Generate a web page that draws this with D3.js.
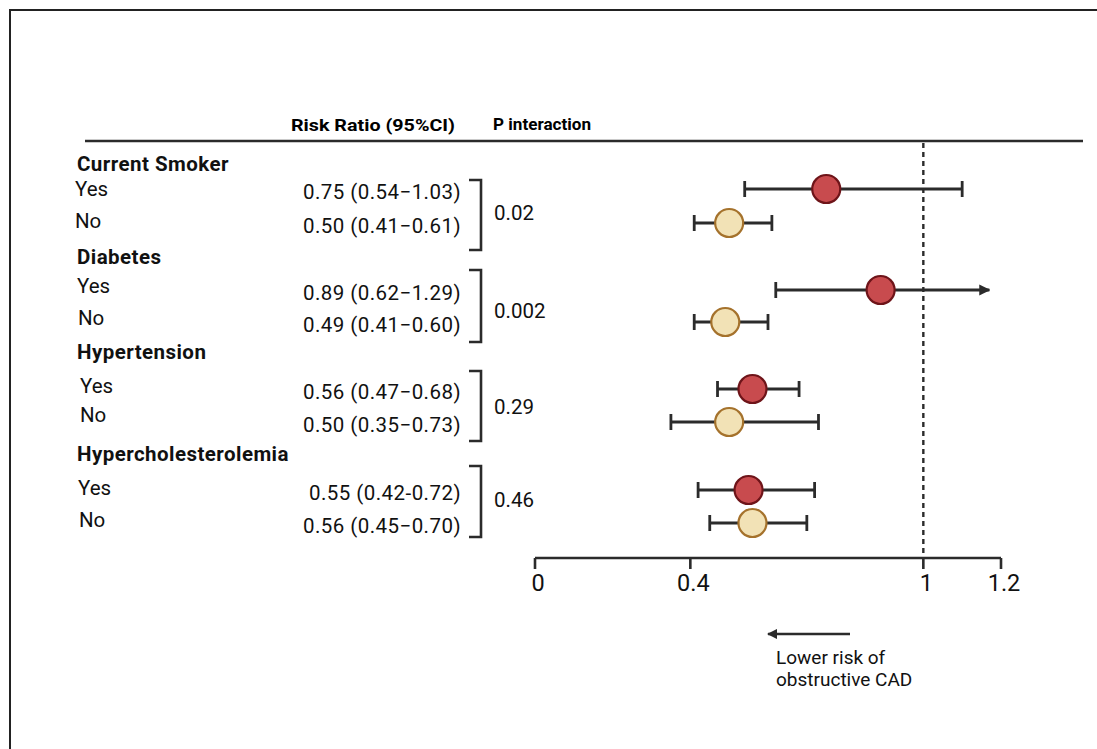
<!DOCTYPE html>
<html>
<head>
<meta charset="utf-8">
<script src="https://cdn.jsdelivr.net/npm/d3@7"></script>
<style>
  body { margin: 0; background: #fff; }
  svg { font-family: Roboto, "Noto Sans", sans-serif; }
</style>
</head>
<body>
<svg id="chart" width="1097" height="749"></svg>
<script>
// groups and subgroups
var groups = ["Current Smoker", "Diabetes", "Hypertension", "Hypercholesterolemia"];
var subgroups = ["Yes", "No"];
// risk ratio labels as printed
var rrLabels = [
  "0.75 (0.54\u22121.03)", "0.50 (0.41\u22120.61)",
  "0.89 (0.62\u22121.29)", "0.49 (0.41\u22120.60)",
  "0.56 (0.47\u22120.68)", "0.50 (0.35\u22120.73)",
  "0.55 (0.42-0.72)", "0.56 (0.45\u22120.70)"
];
var pInteraction = ["0.02", "0.002", "0.29", "0.46"];
// plotted values
var rr   = [0.75, 0.50, 0.89, 0.49, 0.56, 0.50, 0.55, 0.56];
var ciLo = [0.54, 0.41, 0.62, 0.41, 0.47, 0.35, 0.42, 0.45];
var ciHi = [1.10, 0.61, 1.29, 0.60, 0.68, 0.73, 0.72, 0.70];
var xTicks = [0, 0.4, 1, 1.2];

var svg = d3.select("#chart");

var x = d3.scaleLinear().domain([0, 1.2]).range([535, 1001]);
var arrowMax = 1.17; // CIs past this end in an arrow

// layout per row
var rowY = [189, 223, 290, 322, 389, 422, 490, 523];
var groupY = [171, 264, 359, 461];
var yesNoY = [196, 228, 293, 325, 393, 422, 495, 527];
var yesNoX = [75, 75, 77, 78, 80, 80, 78, 79];
var bracket = [[180, 250], [270, 342], [371, 441], [466, 537]];
var pY = [220, 318, 414, 507];

var dark = "#2b2b2b";
var ink = "#111";

// frame
svg.append("rect")
  .attr("x", 10).attr("y", 10)
  .attr("width", 1100).attr("height", 760)
  .attr("fill", "none").attr("stroke", "#222").attr("stroke-width", 2);

// headers
svg.append("text").attr("x", 291).attr("y", 131)
  .attr("font-weight", 700).attr("font-size", 16.5)
  .attr("textLength", 164).attr("lengthAdjust", "spacingAndGlyphs")
  .text("Risk Ratio (95%CI)");
svg.append("text").attr("x", 493).attr("y", 130)
  .attr("font-weight", 700).attr("font-size", 16.5)
  .attr("textLength", 98).attr("lengthAdjust", "spacingAndGlyphs")
  .text("P interaction");

svg.append("line")
  .attr("x1", 85).attr("x2", 1083).attr("y1", 141).attr("y2", 141)
  .attr("stroke", dark).attr("stroke-width", 2.5);

// reference line at 1
svg.append("line")
  .attr("x1", x(1)).attr("x2", x(1)).attr("y1", 143).attr("y2", 558)
  .attr("stroke", dark).attr("stroke-width", 2.4)
  .attr("stroke-dasharray", "5,4");

// group titles
svg.selectAll(".grp").data(groups).enter().append("text")
  .attr("class", "grp")
  .attr("x", 77).attr("y", function(d, i) { return groupY[i]; })
  .attr("font-weight", 700).attr("font-size", 20.5)
  .attr("letter-spacing", 0.45)
  .attr("fill", ink)
  .text(function(d) { return d; });

// Yes / No
svg.selectAll(".yn").data(rr).enter().append("text")
  .attr("class", "yn")
  .attr("x", function(d, i) { return yesNoX[i]; })
  .attr("y", function(d, i) { return yesNoY[i]; })
  .attr("font-size", 20.5).attr("fill", ink)
  .text(function(d, i) { return subgroups[i % 2]; });

// risk ratio text
svg.selectAll(".rrt").data(rrLabels).enter().append("text")
  .attr("class", "rrt")
  .attr("x", 461)
  .attr("y", function(d, i) { return rowY[i] + 10; })
  .attr("text-anchor", "end")
  .attr("font-size", 20.5).attr("letter-spacing", 0.45).attr("fill", ink)
  .text(function(d) { return d; });

// brackets
svg.selectAll(".br").data(bracket).enter().append("path")
  .attr("class", "br")
  .attr("d", function(d) { return "M469," + d[0] + "H481V" + d[1] + "H469"; })
  .attr("fill", "none").attr("stroke", dark).attr("stroke-width", 2.6);

// p values
svg.selectAll(".pv").data(pInteraction).enter().append("text")
  .attr("class", "pv")
  .attr("x", 494).attr("y", function(d, i) { return pY[i]; })
  .attr("font-size", 20.5).attr("fill", ink)
  .text(function(d) { return d; });

// arrow marker
svg.append("defs").append("marker").attr("id", "arr")
  .attr("viewBox", "0 0 10 10").attr("refX", 9).attr("refY", 5)
  .attr("markerWidth", 4).attr("markerHeight", 4).attr("orient", "auto")
  .append("path").attr("d", "M0,0L10,5L0,10z").attr("fill", dark);

// error bars
var bars = svg.selectAll(".ci").data(rr.map(function(d, i) { return i; }))
  .enter().append("g").attr("class", "ci");
bars.append("line")
  .attr("x1", function(i) { return x(ciLo[i]); })
  .attr("x2", function(i) { return x(Math.min(ciHi[i], arrowMax)); })
  .attr("y1", function(i) { return rowY[i]; })
  .attr("y2", function(i) { return rowY[i]; })
  .attr("stroke", dark).attr("stroke-width", 2.8)
  .attr("marker-end", function(i) { return ciHi[i] > arrowMax ? "url(#arr)" : null; });
bars.append("line")
  .attr("x1", function(i) { return x(ciLo[i]); })
  .attr("x2", function(i) { return x(ciLo[i]); })
  .attr("y1", function(i) { return rowY[i] - 8; })
  .attr("y2", function(i) { return rowY[i] + 8; })
  .attr("stroke", dark).attr("stroke-width", 2.8);
bars.filter(function(i) { return ciHi[i] <= arrowMax; }).append("line")
  .attr("x1", function(i) { return x(ciHi[i]); })
  .attr("x2", function(i) { return x(ciHi[i]); })
  .attr("y1", function(i) { return rowY[i] - 8; })
  .attr("y2", function(i) { return rowY[i] + 8; })
  .attr("stroke", dark).attr("stroke-width", 2.8);

// points
svg.selectAll(".pt").data(rr).enter().append("circle")
  .attr("class", "pt")
  .attr("cx", function(d) { return x(d); })
  .attr("cy", function(d, i) { return rowY[i]; })
  .attr("r", 14)
  .attr("fill", function(d, i) { return i % 2 === 0 ? "#c84b4e" : "#f2e2b6"; })
  .attr("stroke", function(d, i) { return i % 2 === 0 ? "#6e1419" : "#a5722c"; })
  .attr("stroke-width", 2.2);

// x axis
var axis = svg.append("g").attr("transform", "translate(0,558)");
axis.append("line")
  .attr("x1", x(0)).attr("x2", x(1.2)).attr("stroke", dark).attr("stroke-width", 2.6);
axis.selectAll(".tk").data(xTicks).enter().append("line")
  .attr("x1", function(d) { return x(d); }).attr("x2", function(d) { return x(d); })
  .attr("y1", 0).attr("y2", 11)
  .attr("stroke", dark).attr("stroke-width", 2.6);
axis.selectAll(".tl").data(xTicks).enter().append("text")
  .attr("x", function(d) { return x(d) + 3; }).attr("y", 33)
  .attr("text-anchor", "middle")
  .attr("font-size", 23.5).attr("fill", ink)
  .text(function(d) { return d; });

// direction note
svg.append("line")
  .attr("x1", 850).attr("x2", 768).attr("y1", 634).attr("y2", 634)
  .attr("stroke", dark).attr("stroke-width", 2.6)
  .attr("marker-end", "url(#arr)");
svg.append("text").attr("x", 776).attr("y", 664)
  .attr("font-size", 19).attr("fill", ink).text("Lower risk of");
svg.append("text").attr("x", 776).attr("y", 686)
  .attr("font-size", 19).attr("fill", ink).text("obstructive CAD");
</script>
</body>
</html>
